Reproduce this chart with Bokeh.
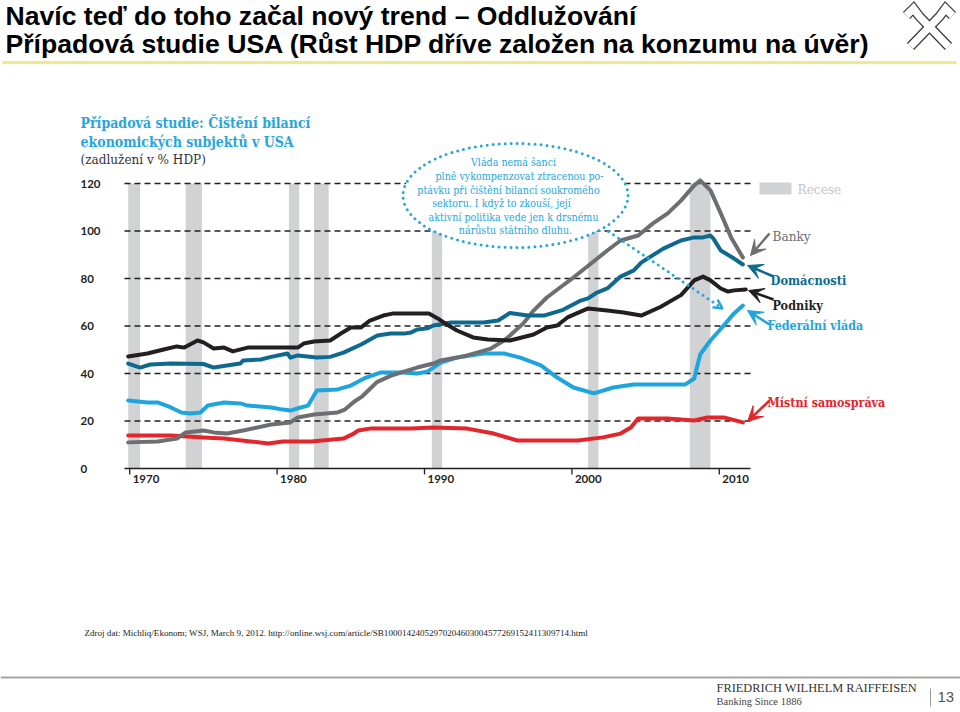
from bokeh.plotting import figure
from bokeh.models import Range1d, Arrow, VeeHead, OpenHead
from bokeh.core.properties import value
from bokeh.embed import file_html
from bokeh.resources import INLINE

# ---------------- data (debt, % of GDP) ----------------
hh_year = [1969.9, 1970.7, 1971.4, 1972.8, 1975.0, 1975.7, 1976.6, 1977.5, 1977.7, 1978.9,
           1979.6, 1980.7, 1980.9, 1981.4, 1982.7, 1983.6, 1984.5, 1985.7, 1986.8, 1987.7,
           1988.6, 1989.1, 1989.5, 1990.2, 1990.6, 1991.8, 1994.0, 1995.0, 1995.8, 1997.0,
           1998.1, 1999.4, 2000.6, 2001.1, 2001.7, 2002.4, 2003.3, 2004.2, 2004.7, 2006.2,
           2007.4, 2008.3, 2008.9, 2009.4, 2009.6, 2010.1, 2011.0, 2011.6]
hh_val = [44.2, 42.5, 43.8, 44.2, 44.0, 42.5, 43.4, 44.2, 45.5, 45.9,
          47.0, 48.4, 46.7, 47.6, 46.7, 47.0, 48.8, 52.2, 56.0, 56.8,
          56.8, 57.3, 58.5, 59.0, 60.2, 61.5, 61.5, 62.3, 65.5, 64.4,
          64.4, 66.8, 70.7, 71.6, 74.1, 75.8, 80.8, 83.4, 86.7, 92.6,
          96.0, 97.3, 97.3, 98.1, 96.8, 91.8, 88.4, 85.9]

bank_year = [1969.9, 1971.9, 1973.2, 1973.8, 1975.0, 1975.7, 1976.6, 1977.7, 1979.6, 1980.9,
             1981.4, 1982.5, 1984.1, 1984.6, 1985.2, 1985.8, 1986.8, 1987.7, 1988.6, 1989.5,
             1990.6, 1991.1, 1992.2, 1992.9, 1994.5, 1995.4, 1995.8, 1996.7, 1997.4, 1998.3,
             1999.2, 2000.1, 2001.3, 2002.4, 2003.3, 2004.5, 2005.5, 2006.5, 2007.4, 2008.3,
             2008.7, 2009.4, 2010.1, 2010.8, 2011.6]
bank_val = [11.0, 11.4, 12.6, 15.2, 16.0, 15.2, 14.7, 16.0, 18.5, 19.4,
            21.5, 22.7, 23.6, 24.8, 28.0, 30.5, 36.5, 39.0, 40.8, 42.5,
            44.2, 45.5, 46.7, 47.6, 50.5, 53.9, 56.0, 61.1, 66.5, 72.0,
            76.2, 80.4, 86.3, 91.8, 96.0, 98.1, 103.2, 107.4, 112.8, 119.2,
            121.3, 117.1, 107.4, 97.3, 88.8]

biz_year = [1969.9, 1971.2, 1972.3, 1973.2, 1973.7, 1974.6, 1975.0, 1975.7, 1976.4, 1977.0,
            1978.0, 1981.4, 1981.8, 1982.5, 1983.6, 1984.5, 1985.0, 1985.7, 1986.3, 1987.2,
            1987.9, 1990.3, 1990.9, 1991.3, 1992.2, 1993.3, 1994.3, 1995.8, 1997.4, 1998.3,
            1999.0, 1999.7, 2001.1, 2002.4, 2003.5, 2004.7, 2006.0, 2007.4, 2008.3, 2008.9,
            2009.4, 2010.1, 2010.6, 2011.0, 2011.8]
biz_val = [47.2, 48.4, 50.1, 51.4, 50.9, 53.9, 53.1, 50.5, 50.9, 49.3,
           50.9, 50.9, 52.6, 53.5, 53.9, 57.5, 59.4, 59.4, 62.3, 64.4,
           65.3, 65.3, 63.2, 61.5, 58.1, 55.2, 54.3, 53.9, 56.4, 59.4,
           60.2, 63.6, 67.4, 66.5, 65.7, 64.4, 68.0, 73.0, 79.2, 80.8,
           79.2, 75.8, 74.5, 75.0, 75.4]

fed_year = [1969.9, 1971.2, 1971.9, 1972.8, 1973.5, 1974.1, 1974.8, 1975.3, 1976.4, 1977.5,
            1978.0, 1979.6, 1980.4, 1980.9, 1981.6, 1982.1, 1982.7, 1984.1, 1985.0, 1985.9,
            1987.0, 1988.6, 1989.5, 1990.2, 1991.1, 1992.2, 1994.0, 1995.4, 1996.5, 1997.9,
            1999.0, 2000.1, 2001.5, 2002.8, 2004.2, 2006.5, 2007.7, 2008.3, 2008.7, 2009.4,
            2010.3, 2011.0, 2011.6]
fed_val = [28.6, 27.8, 27.8, 25.7, 23.6, 23.2, 23.6, 26.5, 27.8, 27.4,
           26.5, 25.7, 24.8, 24.4, 25.7, 26.5, 32.8, 33.3, 34.9, 37.9,
           40.4, 40.4, 40.0, 40.8, 44.6, 46.7, 48.4, 48.4, 46.7, 43.4,
           38.3, 34.1, 31.6, 34.1, 35.4, 35.4, 35.4, 37.9, 48.0, 53.9,
           60.2, 65.3, 68.6]

loc_year = [1969.9, 1972.8, 1975.0, 1976.4, 1978.2, 1979.4, 1980.4, 1982.3, 1984.5, 1985.2,
            1985.5, 1986.3, 1989.1, 1990.6, 1992.9, 1994.7, 1996.3, 1998.6, 2000.4, 2002.1,
            2003.3, 2004.0, 2004.5, 2006.5, 2008.3, 2009.2, 2010.3, 2011.6]
loc_val = [13.9, 13.9, 13.1, 12.6, 11.4, 10.5, 11.4, 11.4, 12.6, 14.7,
           16.0, 16.8, 16.8, 17.3, 16.8, 14.7, 11.8, 11.8, 11.8, 13.1,
           14.7, 17.3, 21.1, 21.1, 20.2, 21.5, 21.5, 19.4]

rec_start = [1969.9, 1973.8, 1980.8, 1982.5, 1990.5, 2001.1, 2008.0]
rec_end = [1970.7, 1974.9, 1981.5, 1983.5, 1991.2, 2001.8, 2009.4]

y_ticks = [0, 20, 40, 60, 80, 100, 120]
x_ticks = [1970, 1980, 1990, 2000, 2010]
x_tick_labels = ["1970", "1980", "1990", "2000", "2010"]

series_names = ["Banky", "Domácnosti", "Podniky", "Federální vláda", "Místní samospráva"]

# ---------------- colours ----------------
C_HH = "#0d6a8e"
C_BANK = "#6d6e71"
C_BIZ = "#231f20"
C_FED = "#1ea5de"
C_LOC = "#e2262c"
C_REC = "#d1d2d4"
C_CYAN = "#27a6de"

# ---------------- geometry (page pixels -> data) ----------------
W, H = 960, 712


def X(px):
    return 1990 + (px - 424) / 14.74


def Y(py):
    return (468 - py) / 2.375


p = figure(width=W, height=H, x_range=Range1d(X(0), X(W)), y_range=Range1d(Y(H), Y(0)),
           output_backend="svg", toolbar_location=None, min_border=0,
           x_axis_location=None, y_axis_location=None, outline_line_color=None,
           background_fill_color="white", border_fill_color="white")
p.grid.visible = False

SERIF = "DejaVu Serif Condensed"


def txt(px, cy, s, size, color, font=SERIF, style="normal", align="left"):
    # cy = vertical centre of the capitals
    p.text(x=[X(px)], y=[Y(cy)], text=[s], text_font=value(font), text_font_size=f"{size}px",
           text_color=color, text_font_style=style, text_align=align, text_baseline="middle")


# ---------------- slide header ----------------
txt(5, 15, "Navíc teď do toho začal nový trend – Oddlužování", 26.6, "#000000",
    font="Liberation Sans", style="bold")
txt(5, 43, "Případová studie USA (Růst HDP dříve založen na konzumu na úvěr)", 26.6, "#000000",
    font="Liberation Sans", style="bold")
p.segment(x0=[X(2)], y0=[Y(62)], x1=[X(956)], y1=[Y(62)], line_color="#efe98a", line_width=3)

# logo (gable cross outline)
logo_a = [(910, 46), (939, 16), (945, 8), (952, 15)]
logo_b = [(948, 46), (919, 16), (913, 8), (906, 15)]
for lw, col in [(10, "#3a3a3a"), (7.5, "white")]:
    for pts in (logo_a, logo_b):
        p.line([X(a) for a, _ in pts], [Y(b) for _, b in pts], line_width=lw, line_color=col,
               line_join="miter", line_cap="butt")

# ---------------- chart ----------------
p.quad(left=rec_start, right=rec_end, bottom=0, top=120, fill_color=C_REC, line_color=None)

grid_vals = y_ticks[1:]
p.segment(x0=[X(124)] * len(grid_vals), y0=grid_vals, x1=[X(750)] * len(grid_vals), y1=grid_vals,
          line_color=C_BIZ, line_width=1.3, line_dash="6 4")
p.segment(x0=[X(124)], y0=[0], x1=[X(750)], y1=[0], line_color=C_BIZ, line_width=1.5)
p.segment(x0=x_ticks, y0=[0] * len(x_ticks), x1=x_ticks, y1=[Y(474)] * len(x_ticks),
          line_color=C_BIZ, line_width=1.3)

p.text(x=[X(80)] * len(y_ticks), y=y_ticks, text=[str(v) for v in y_ticks],
       text_font=value("Lato"), text_font_style="bold", text_font_size="11.5px",
       text_color=C_BIZ, text_align="left", text_baseline="middle")
p.text(x=x_ticks, y=[Y(478.5)] * len(x_ticks), text=x_tick_labels, x_offset=3,
       text_font=value("Lato"), text_font_style="bold", text_font_size="11.5px",
       text_color=C_BIZ, text_align="left", text_baseline="middle")

# annotation ellipse (white-filled, covers grid)
p.ellipse(x=[X(515)], y=[Y(195)], width=[225 / 14.74], height=[104 / 2.375], fill_color="white",
          line_color=C_CYAN, line_width=3, line_dash="0 6", line_cap="round")

for xs, ys, col in [(loc_year, loc_val, C_LOC), (fed_year, fed_val, C_FED),
                    (bank_year, bank_val, C_BANK), (hh_year, hh_val, C_HH),
                    (biz_year, biz_val, C_BIZ)]:
    p.line(xs, ys, line_color=col, line_width=4, line_join="round", line_cap="round")

# chart title
txt(80, 122.5, "Případová studie: Čištění bilancí", 14, C_CYAN, style="bold")
txt(80, 141.5, "ekonomických subjektů v USA", 14, C_CYAN, style="bold")
txt(80, 158.5, "(zadlužení v % HDP)", 13.4, "#333333")

# recession legend
p.quad(left=[X(759)], right=[X(791)], bottom=[Y(194)], top=[Y(182)], fill_color=C_REC, line_color=None)
txt(797, 188, "Recese", 13.5, "#c4c5c7")

ell_lines = ["Vláda nemá šanci", "plně vykompenzovat ztracenou po-",
             "ptávku při čištění bilancí soukromého", "sektoru. I když to zkouší, její",
             "aktivní politika vede jen k drsnému", "nárůstu státního dluhu."]
ell_cx = [513, 519, 508, 501, 513, 515]
ell_cy = [161, 175, 189, 202.5, 216, 229]
for s, cx, cy in zip(ell_lines, ell_cx, ell_cy):
    txt(cx, cy, s, 10.6, C_CYAN, align="center")

p.add_layout(Arrow(end=OpenHead(size=9, line_color=C_CYAN, line_width=2.5),
                   x_start=X(608), y_start=Y(231), x_end=X(722), y_end=Y(308),
                   line_color=C_CYAN, line_width=3, line_dash="0 6", line_cap="round"))

# series labels with arrows
labels = [
    (series_names[0], 772, 235, C_BANK, "normal", 13.5, (769, 233), (750, 255)),
    (series_names[1], 770, 280, C_HH, "bold", 12.7, (773, 276), (747, 265)),
    (series_names[2], 772, 304.5, C_BIZ, "bold", 12.5, (773, 299), (748, 290)),
    (series_names[3], 767, 324.5, C_FED, "bold", 12.4, (769, 324), (747, 310)),
    (series_names[4], 767, 402, C_LOC, "bold", 12.4, (769, 400), (747, 421)),
]
for name, lx, cy, col, st, fs, tail, tip in labels:
    txt(lx, cy, name, fs, col, style=st)
    p.add_layout(Arrow(end=VeeHead(size=15, fill_color=col, line_color=col, line_width=1),
                       x_start=X(tail[0]), y_start=Y(tail[1]), x_end=X(tip[0]), y_end=Y(tip[1]),
                       line_color=col, line_width=2.5))

# ---------------- source & footer ----------------
txt(84, 632, "Zdroj dat: Michliq/Ekonom; WSJ, March 9, 2012. "
    "http://online.wsj.com/article/SB10001424052970204603004577269152411309714.html",
    9.05, "#222222", font="Liberation Serif")
p.segment(x0=[X(0)], y0=[Y(677)], x1=[X(960)], y1=[Y(677)], line_color="#a6a6a6", line_width=2)
txt(716, 687, "FRIEDRICH WILHELM RAIFFEISEN", 12.4, "#333333", font="Liberation Serif")
txt(716, 701, "Banking Since 1886", 10.5, "#444444", font="Liberation Serif")
p.segment(x0=[X(930)], y0=[Y(688)], x1=[X(930)], y1=[Y(706)], line_color="#9a9a9a", line_width=1)
txt(937, 696, "13", 15, "#555555", font="Liberation Sans")

open("out.html", "w").write(file_html(p, INLINE))
